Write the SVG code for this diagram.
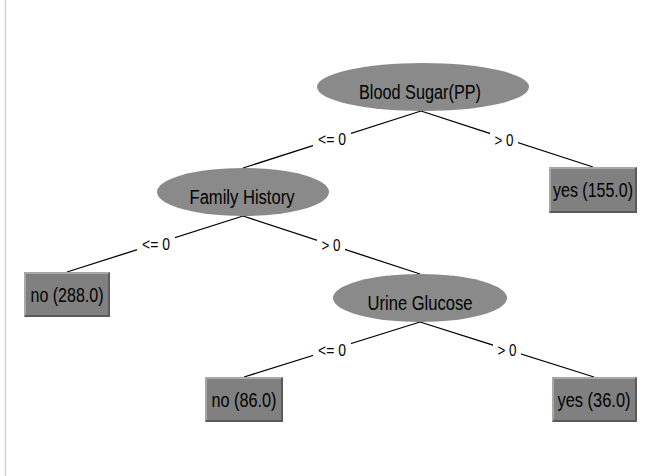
<svg xmlns="http://www.w3.org/2000/svg" width="646" height="476" viewBox="0 0 646 476">
  <style>
    .split { fill: #8a8a8a; stroke: none; }
    .leaf { fill: #808080; }
    .hi { stroke: #a8a8a8; stroke-width: 2; fill: none; }
    .lo { stroke: #5a5a5a; stroke-width: 2; fill: none; }
    .txt { font-family: "Liberation Sans", Arial, sans-serif; font-size: 20px; fill: #000; text-anchor: middle; }
    .edge { stroke: #000; stroke-width: 1.3; fill: none; }
    .lbl { font-family: "Liberation Sans", Arial, sans-serif; font-size: 17px; fill: #000; text-anchor: middle; }
    .lblbg { fill: #fff; }
  </style>
  <rect x="0" y="0" width="646" height="476" fill="#fff"/>
  <line x1="5.5" y1="0" x2="5.5" y2="476" stroke="#d4d4d4" stroke-width="1.5"/>

  <!-- edges with their split labels -->
  <g id="connectors">
    <line class="edge" x1="421" y1="111" x2="243" y2="168"/>
    <line class="edge" x1="421" y1="111" x2="593" y2="167"/>
    <line class="edge" x1="243" y1="216" x2="67" y2="272"/>
    <line class="edge" x1="243" y1="216" x2="420" y2="274"/>
    <line class="edge" x1="420" y1="322" x2="244" y2="377"/>
    <line class="edge" x1="420" y1="322" x2="594" y2="377"/>

    <rect class="lblbg" x="313" y="128" width="38" height="20"/>
    <text class="lbl" x="332" y="145" textLength="28" lengthAdjust="spacingAndGlyphs">&lt;= 0</text>
    <rect class="lblbg" x="490" y="129" width="28" height="20"/>
    <text class="lbl" x="504" y="146" textLength="19" lengthAdjust="spacingAndGlyphs">&gt; 0</text>

    <rect class="lblbg" x="137" y="234" width="38" height="20"/>
    <text class="lbl" x="156" y="250" textLength="28" lengthAdjust="spacingAndGlyphs">&lt;= 0</text>
    <rect class="lblbg" x="317" y="235" width="28" height="20"/>
    <text class="lbl" x="331" y="251" textLength="19" lengthAdjust="spacingAndGlyphs">&gt; 0</text>

    <rect class="lblbg" x="313" y="339" width="38" height="20"/>
    <text class="lbl" x="332" y="356" textLength="28" lengthAdjust="spacingAndGlyphs">&lt;= 0</text>
    <rect class="lblbg" x="493" y="339" width="28" height="20"/>
    <text class="lbl" x="507" y="356" textLength="19" lengthAdjust="spacingAndGlyphs">&gt; 0</text>
  </g>

  <g id="node-blood-sugar">
    <ellipse class="split" cx="423" cy="87" rx="106" ry="24"/>
    <text class="txt" x="420" y="99" textLength="122" lengthAdjust="spacingAndGlyphs">Blood Sugar(PP)</text>
  </g>

  <g id="node-family-history">
    <ellipse class="split" cx="243" cy="192" rx="86" ry="24"/>
    <text class="txt" x="242" y="204" textLength="105" lengthAdjust="spacingAndGlyphs">Family History</text>
  </g>

  <g id="node-urine-glucose">
    <ellipse class="split" cx="420" cy="298" rx="87" ry="24"/>
    <text class="txt" x="420" y="310" textLength="105" lengthAdjust="spacingAndGlyphs">Urine Glucose</text>
  </g>

  <g id="leaf-yes-155">
    <rect class="leaf" x="549" y="167" width="88" height="46"/>
    <path class="hi" d="M550 212 V168 H636"/>
    <path class="lo" d="M550 212 H636 V168"/>
    <text class="txt" transform="translate(593 197) scale(0.8 1)" x="0" y="0">yes (155.0)</text>
  </g>

  <g id="leaf-no-288">
    <rect class="leaf" x="24" y="272" width="86" height="45"/>
    <path class="hi" d="M25 316 V273 H109"/>
    <path class="lo" d="M25 316 H109 V273"/>
    <text class="txt" x="67" y="302" textLength="73" lengthAdjust="spacingAndGlyphs">no (288.0)</text>
  </g>

  <g id="leaf-no-86">
    <rect class="leaf" x="205" y="377" width="78" height="45"/>
    <path class="hi" d="M206 421 V378 H282"/>
    <path class="lo" d="M206 421 H282 V378"/>
    <text class="txt" x="244" y="407" textLength="65" lengthAdjust="spacingAndGlyphs">no (86.0)</text>
  </g>

  <g id="leaf-yes-36">
    <rect class="leaf" x="552" y="377" width="85" height="45"/>
    <path class="hi" d="M553 421 V378 H636"/>
    <path class="lo" d="M553 421 H636 V378"/>
    <text class="txt" x="594" y="407" textLength="73" lengthAdjust="spacingAndGlyphs">yes (36.0)</text>
  </g>
</svg>
